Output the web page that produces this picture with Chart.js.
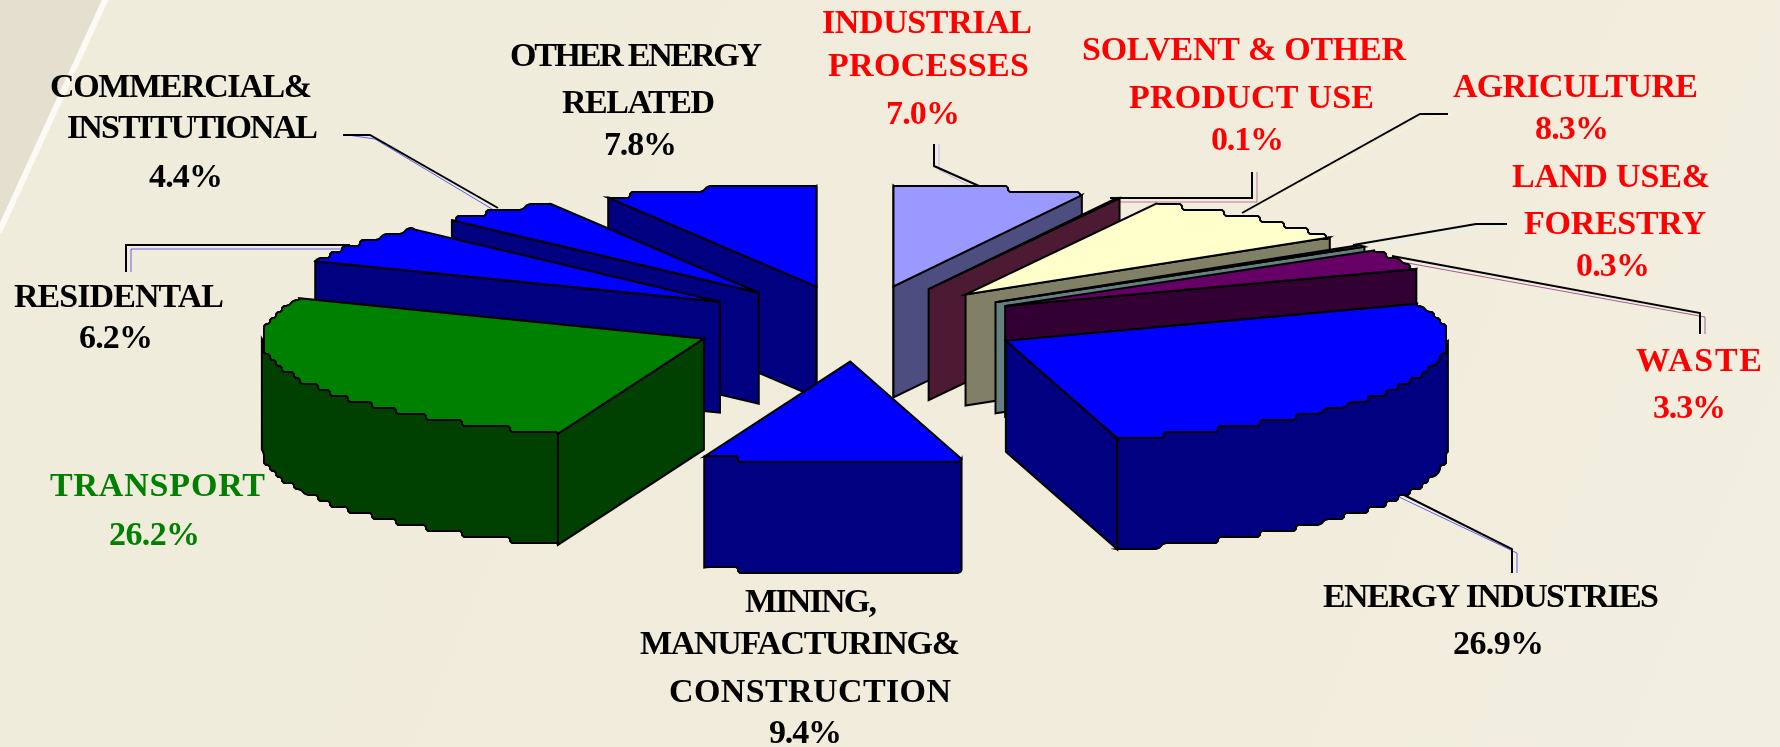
<!DOCTYPE html>
<html>
<head>
<meta charset="utf-8">
<title>Emissions by sector</title>
<script src="https://cdn.jsdelivr.net/npm/chart.js@4"></script>
<style>
html, body { margin: 0; padding: 0; background: #f0ecdc; }
canvas { display: block; }
</style>
</head>
<body>
<canvas id="sectorChart" width="1780" height="747"></canvas>
<script>
const categories = ['INDUSTRIAL PROCESSES', 'SOLVENT & OTHER PRODUCT USE', 'AGRICULTURE', 'LAND USE& FORESTRY', 'WASTE',
	'ENERGY INDUSTRIES', 'MINING, MANUFACTURING& CONSTRUCTION', 'TRANSPORT', 'RESIDENTAL', 'COMMERCIAL& INSTITUTIONAL', 'OTHER ENERGY RELATED'];
const shares = [7.0, 0.1, 8.3, 0.3, 3.3, 26.9, 9.4, 26.2, 6.2, 4.4, 7.8];
const sliceColors = ['#9999FF', '#993366', '#FFFFCC', '#CCFFFF', '#660066', '#0000FF', '#0000FF', '#008000', '#0000FF', '#0000FF', '#0000FF'];

// label lines per slice: text, left, right, baseline. the last line of each is the percentage
const labelColors = ['#FF0000', '#FF0000', '#FF0000', '#FF0000', '#FF0000', '#000000', '#000000', '#008000', '#000000', '#000000', '#000000'];
const labelLines = [
	[['INDUSTRIAL', 822, 1032, 33], ['PROCESSES', 828, 1029, 76], [886, 960, 124]],
	[['SOLVENT & OTHER', 1082, 1406, 60], ['PRODUCT USE', 1129, 1374, 108], [1211, 1284, 150]],
	[['AGRICULTURE', 1453, 1698, 97], [1535, 1609, 139]],
	[['LAND USE&', 1512, 1710, 187], ['FORESTRY', 1524, 1706, 234], [1576, 1650, 276]],
	[['WASTE', 1636, 1762, 371], [1653, 1726, 418]],
	[['ENERGY INDUSTRIES', 1323, 1659, 607], [1453, 1544, 654]],
	[['MINING,', 745, 877, 612], ['MANUFACTURING&', 640, 960, 654], ['CONSTRUCTION', 669, 951, 702], [769, 842, 743]],
	[['TRANSPORT', 50, 265, 496], [109, 200, 545]],
	[['RESIDENTAL', 14, 224, 307], [79, 153, 348]],
	[['COMMERCIAL&', 50, 312, 97], ['INSTITUTIONAL', 67, 318, 138], [149, 223, 187]],
	[['OTHER ENERGY', 510, 762, 66], ['RELATED', 562, 715, 113], [604, 677, 155]]
];
// leader lines, label end first
const leaders = [
	[[934, 144], [934, 166], [979, 186]],
	[[1252, 172], [1252, 198], [1110, 198]],
	[[1448, 114], [1420, 114], [1242, 213]],
	[[1507, 224], [1476, 224], [1353, 245]],
	[[1700, 334], [1700, 313], [1392, 256]],
	[[1512, 573], [1512, 549], [1400, 493]],
	null,
	null,
	[[126, 272], [126, 245], [350, 245]],
	[[343, 135], [370, 135], [498, 208]],
	null
];

// how the flat pie is laid on its side
const centerX = 857, centerY = 323.5;
const squash = 0.228, wallDepth = 111, explode = 167, stair = 6;

function halfColor(hex) {
	const n = parseInt(hex.slice(1), 16);
	return 'rgb(' + Math.round((n >> 16) / 2) + ',' + Math.round(((n >> 8) & 255) / 2) + ',' + Math.round((n & 255) / 2) + ')';
}

// rough stepped rim like the old metafile: snap to a grid, then cut the corners a bit
function rimPoints(ax, ay, r, from, to) {
	const snapped = [];
	const steps = Math.max(2, Math.ceil((to - from) / 0.004));
	for (let i = 0; i <= steps; i++) {
		const a = from + (to - from) * i / steps;
		let x = ax + r * Math.cos(a), y = ay + r * squash * Math.sin(a);
		if (i > 0 && i < steps) {
			x = Math.round(x / stair) * stair;
			y = Math.round(y / stair) * stair;
		}
		const last = snapped[snapped.length - 1];
		if (!last || last[0] !== x || last[1] !== y) snapped.push([x, y]);
	}
	const pts = [snapped[0]];
	for (let i = 1; i < snapped.length - 1; i++) {
		const p = snapped[i], a = snapped[i - 1], b = snapped[i + 1];
		const la = Math.hypot(a[0] - p[0], a[1] - p[1]), lb = Math.hypot(b[0] - p[0], b[1] - p[1]);
		const ca = Math.min(2, la / 2), cb = Math.min(2, lb / 2);
		pts.push([p[0] + (a[0] - p[0]) * ca / la, p[1] + (a[1] - p[1]) * ca / la]);
		pts.push([p[0] + (b[0] - p[0]) * cb / lb, p[1] + (b[1] - p[1]) * cb / lb]);
	}
	pts.push(snapped[snapped.length - 1]);
	return pts;
}

function fillPoly(ctx, pts, color) {
	ctx.beginPath();
	pts.forEach((p, i) => i ? ctx.lineTo(p[0], p[1]) : ctx.moveTo(p[0], p[1]));
	ctx.closePath();
	ctx.fillStyle = color;
	ctx.fill();
	ctx.stroke();
}

function drawSlice(ctx, arc) {
	const s = arc.startAngle, e = arc.endAngle, r = arc.outerRadius;
	const mid = (s + e) / 2;
	const ax = centerX + explode * Math.cos(mid);
	const ay = centerY + explode * squash * Math.sin(mid);
	const top = arc.options.backgroundColor;
	const wall = halfColor(top);
	const sx = ax + r * Math.cos(s), sy = ay + r * squash * Math.sin(s);
	const ex = ax + r * Math.cos(e), ey = ay + r * squash * Math.sin(e);
	ctx.strokeStyle = '#000';
	ctx.lineWidth = 2;
	ctx.lineJoin = 'miter';
	if (Math.cos(s) < 0.001) fillPoly(ctx, [[ax, ay], [sx, sy], [sx, sy + wallDepth], [ax, ay + wallDepth]], wall);
	if (Math.cos(e) > -0.001) fillPoly(ctx, [[ax, ay], [ex, ey], [ex, ey + wallDepth], [ax, ay + wallDepth]], wall);
	// the round outer wall only shows on the front half
	const lo = Math.max(s, 0), hi = Math.min(e, Math.PI);
	if (lo < hi) {
		const rim = rimPoints(ax, ay, r, lo, hi);
		const under = rim.slice().reverse().map(p => [p[0], p[1] + wallDepth]);
		fillPoly(ctx, rim.concat(under), wall);
	}
	fillPoly(ctx, [[ax, ay]].concat(rimPoints(ax, ay, r, s, e)), top);
}

function drawLabels(ctx) {
	ctx.textBaseline = 'alphabetic';
	ctx.textAlign = 'left';
	ctx.font = 'bold 34px "Liberation Serif"';
	labelLines.forEach((lines, i) => {
		ctx.fillStyle = labelColors[i];
		lines.forEach(line => {
			const isPct = line.length === 3;
			const text = isPct ? shares[i].toFixed(1) + '%' : line[0];
			const box = isPct ? line : line.slice(1);
			ctx.letterSpacing = '0px';
			const w = ctx.measureText(text).width;
			ctx.letterSpacing = ((box[1] - box[0] - w) / (text.length - 1)) + 'px';
			ctx.fillText(text, box[0], box[2]);
		});
	});
	ctx.letterSpacing = '0px';
}

function drawLeaders(ctx) {
	leaders.forEach((pts, i) => {
		if (!pts) return;
		ctx.beginPath();
		pts.forEach((p, j) => {
			const dx = j < 2 ? 5 : -1;
			j ? ctx.lineTo(p[0] + dx, p[1] + 4) : ctx.moveTo(p[0] + dx, p[1]);
		});
		ctx.globalAlpha = 0.6;
		ctx.strokeStyle = sliceColors[i];
		ctx.lineWidth = 1;
		ctx.stroke();
		ctx.globalAlpha = 1;
		ctx.beginPath();
		pts.forEach((p, j) => j ? ctx.lineTo(p[0], p[1]) : ctx.moveTo(p[0], p[1]));
		ctx.strokeStyle = '#000';
		ctx.lineWidth = 2;
		ctx.stroke();
	});
}

const lyingPie = {
	id: 'lyingPie',
	beforeDraw(chart) {
		const ctx = chart.ctx;
		const bg = ctx.createLinearGradient(0, 0, 1780, 747);
		bg.addColorStop(0, '#f0ecdc');
		bg.addColorStop(0.7, '#f1ecdc');
		bg.addColorStop(1, '#f3efe0');
		ctx.fillStyle = bg;
		ctx.fillRect(0, 0, 1780, 747);
		// corner wedge and white stroke of the slide
		ctx.fillStyle = '#e4dfce';
		ctx.beginPath();
		ctx.moveTo(0, 0);
		ctx.lineTo(103, 0);
		ctx.lineTo(0, 230);
		ctx.closePath();
		ctx.fill();
		ctx.strokeStyle = '#fbfaf4';
		ctx.lineWidth = 6;
		ctx.beginPath();
		ctx.moveTo(106, -2);
		ctx.lineTo(-1, 232);
		ctx.stroke();
	},
	beforeDatasetsDraw(chart) {
		const ctx = chart.ctx;
		const arcs = chart.getDatasetMeta(0).data.slice();
		// back slices first
		arcs.sort((a, b) => Math.sin((a.startAngle + a.endAngle) / 2) - Math.sin((b.startAngle + b.endAngle) / 2));
		drawLeaders(ctx);
		arcs.forEach(arc => drawSlice(ctx, arc));
		drawLabels(ctx);
		return false;
	}
};

new Chart(document.getElementById('sectorChart'), {
	type: 'pie',
	data: {
		labels: categories,
		datasets: [{
			data: shares,
			backgroundColor: sliceColors,
			borderWidth: 0
		}]
	},
	options: {
		responsive: false,
		animation: false,
		radius: 442,
		rotation: 0,
		plugins: { legend: { display: false }, tooltip: { enabled: false } }
	},
	plugins: [lyingPie]
});
</script>
</body>
</html>
